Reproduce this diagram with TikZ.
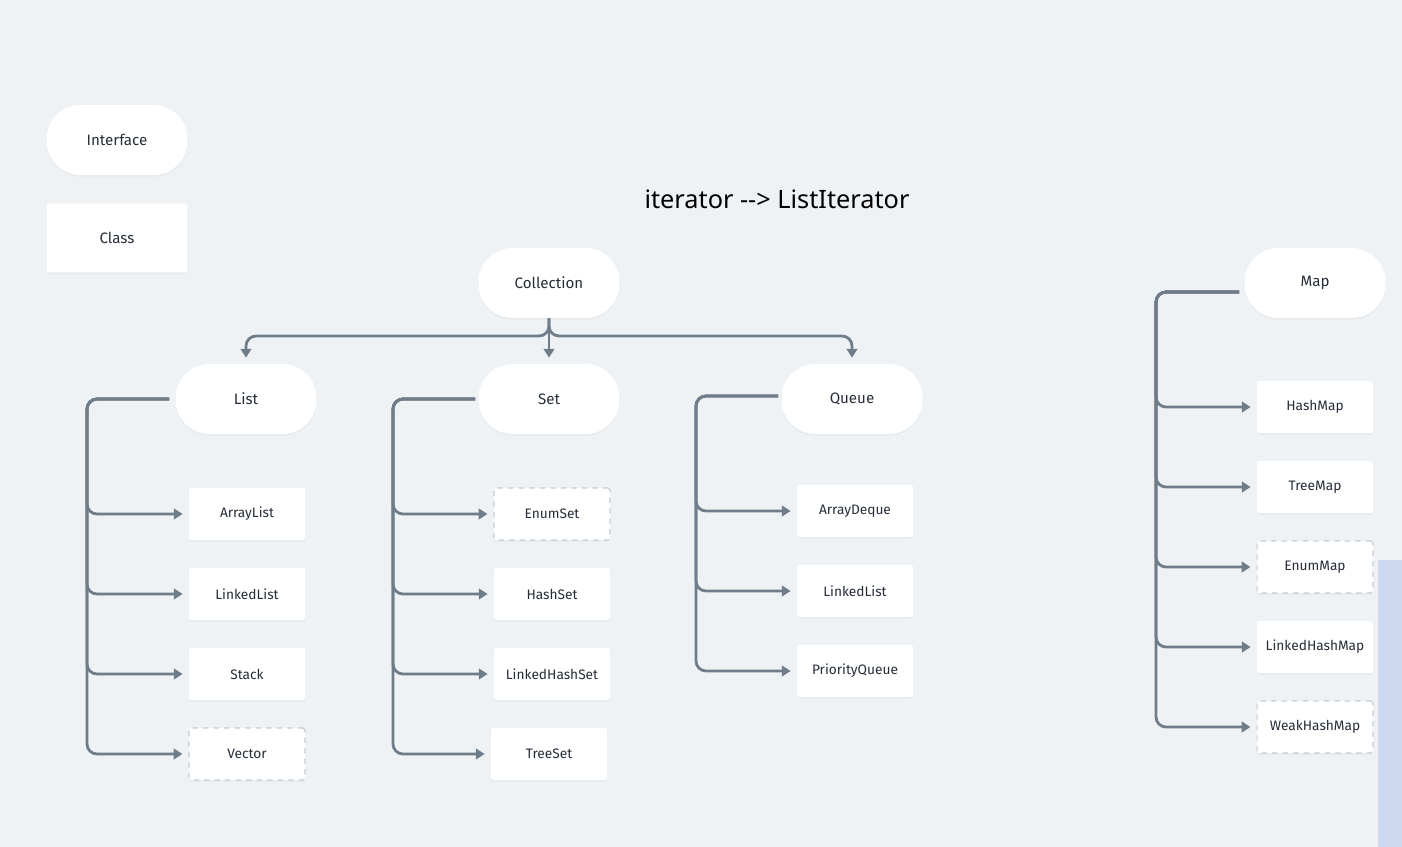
\documentclass[tikz,border=0pt]{standalone}
\usepackage{fontspec}
\setmainfont{Fira Sans}
\newfontfamily\titlefont{Noto Sans}
\usetikzlibrary{positioning}
\usetikzlibrary{calc}
\usetikzlibrary{arrows.meta}
\usetikzlibrary{shadows}

\definecolor{bgcol}{HTML}{EFF2F5}
\definecolor{linecol}{HTML}{6F7C89}
\definecolor{txtcol}{HTML}{262D38}
\definecolor{dashcol}{HTML}{C6CCD2}
\definecolor{stripcol}{HTML}{CBD8EF}

\tikzset{
  iface/.style={fill=white, rounded corners=0.68cm, minimum width=2.82cm, minimum height=1.4cm,
    text=txtcol, font=\fontsize{8.6}{10}\selectfont,
    drop shadow={opacity=0.06, shadow xshift=0pt, shadow yshift=-1pt}},
  cls/.style={fill=white, rounded corners=1pt, minimum width=2.32cm, minimum height=1.04cm,
    text=txtcol, font=\fontsize{7.8}{9}\selectfont,
    drop shadow={opacity=0.06, shadow xshift=0pt, shadow yshift=-1pt}},
  abscls/.style={cls, draw=dashcol, dashed, line width=0.6pt},
  conn/.style={draw=linecol, line width=1.6pt, rounded corners=0.2cm,
    -{Triangle[length=5pt,width=6pt]}, shorten >=0.12cm}
}

\begin{document}
\begin{tikzpicture}[x=0.02cm, y=-0.02cm]
  \fill[bgcol] (0,0) rectangle (1402,847);
  \useasboundingbox (0,0) rectangle (1402,847);
  \fill[stripcol] (1378,560) rectangle (1402,847);

  % legend
  \node[iface] (interface) at (117,140) {Interface};
  \node[cls, minimum width=2.82cm, minimum height=1.38cm, font=\fontsize{8.6}{10}\selectfont] (class) at (117,238) {Class};

  \node[font=\titlefont\fontsize{14.4}{17}\selectfont, text=black] (title) at (777,199) {iterator --> ListIterator};

  % interfaces
  \node[iface] (collection) at (549,283) {Collection};
  \node[iface] (list) at (246,399) {List};
  \node[iface] (set) at (549,399) {Set};
  \node[iface] (queue) at (852,399) {Queue};
  \node[iface] (map) at (1315,283) {Map};

  % List
  \node[cls] (arraylist) at (247,514) {ArrayList};
  \node[cls] (linkedlist) at (247,594) {LinkedList};
  \node[cls] (stack) at (247,674) {Stack};
  \node[abscls] (vector) at (247,754) {Vector};

  % Set
  \node[abscls] (enumset) at (552,514) {EnumSet};
  \node[cls] (hashset) at (552,594) {HashSet};
  \node[cls] (linkedhashset) at (552,674) {LinkedHashSet};
  \node[cls] (treeset) at (549,754) {TreeSet};

  % Queue
  \node[cls] (arraydeque) at (855,511) {ArrayDeque};
  \node[cls] (qlinkedlist) at (855,591) {LinkedList};
  \node[cls] (priorityqueue) at (855,671) {PriorityQueue};

  % Map
  \node[cls] (hashmap) at (1315,407) {HashMap};
  \node[cls] (treemap) at (1315,487) {TreeMap};
  \node[abscls] (enummap) at (1315,567) {EnumMap};
  \node[cls] (linkedhashmap) at (1315,647) {LinkedHashMap};
  \node[abscls] (weakhashmap) at (1315,727) {WeakHashMap};

  % trunks
  \coordinate (lt) at (87,0);
  \coordinate (st) at (393,0);
  \coordinate (qt) at (696,0);
  \coordinate (mt) at (1156,0);
  \coordinate (ct) at (0,336);

  % Collection
  \draw[conn] (collection.south) |- (ct -| list.north) -- (list.north);
  \draw[conn] (collection.south) |- (ct -| queue.north) -- (queue.north);
  \draw[conn] (collection.south) -- (set.north);

  % List
  \foreach \c in {arraylist,linkedlist,stack,vector}
    \draw[conn] ([xshift=-0.12cm]list.west) -| (lt |- \c.west) -- (\c.west);

  % Set
  \foreach \c in {enumset,hashset,linkedhashset,treeset}
    \draw[conn] ([xshift=-0.06cm]set.west) -| (st |- \c.west) -- (\c.west);

  % Queue
  \foreach \c in {arraydeque,qlinkedlist,priorityqueue}
    \draw[conn] ([xshift=-0.06cm,yshift=0.06cm]queue.west) -| (qt |- \c.west) -- (\c.west);

  % Map
  \foreach \c in {hashmap,treemap,enummap,linkedhashmap,weakhashmap}
    \draw[conn] ([xshift=-0.1cm,yshift=-0.18cm]map.west) -| (mt |- \c.west) -- (\c.west);
\end{tikzpicture}
\end{document}
